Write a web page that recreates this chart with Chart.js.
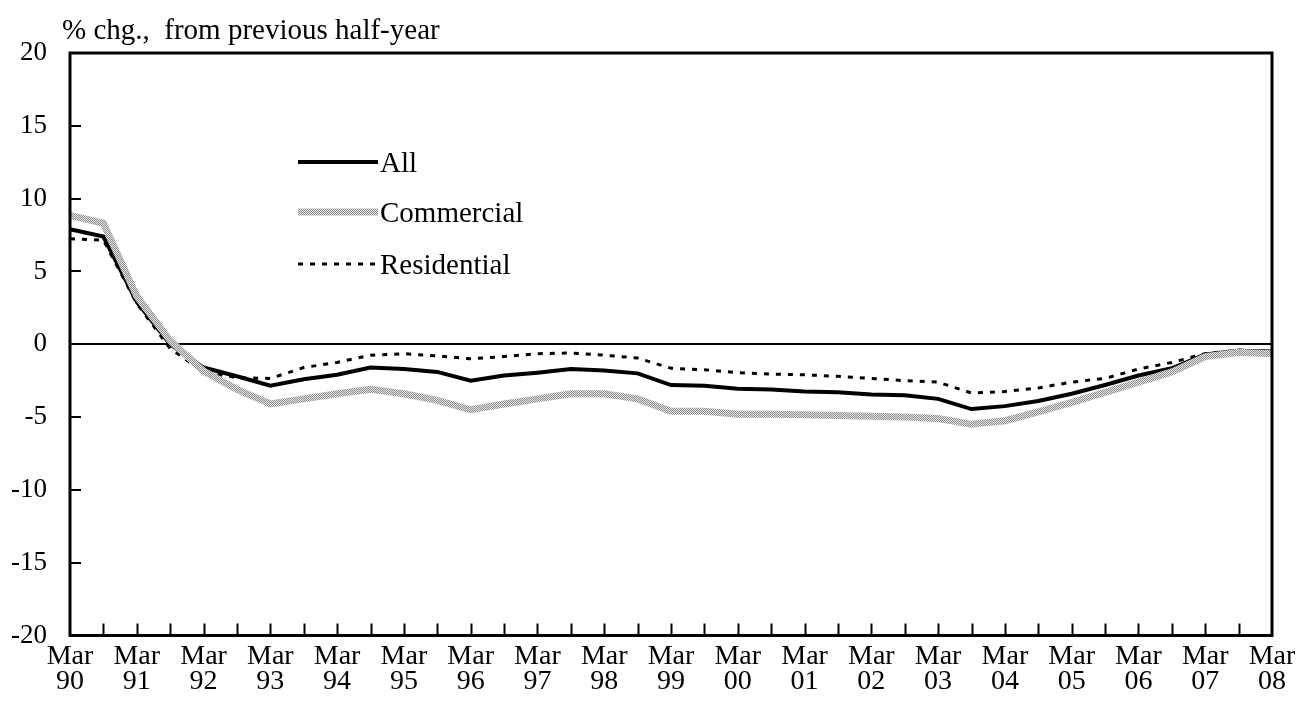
<!DOCTYPE html>
<html lang="en">
<head>
    <meta charset="UTF-8">
    <title>Land prices</title>
    <script src="https://cdn.jsdelivr.net/npm/chart.js"></script>
    <style>
        body { margin: 0; background: #fff; }
        .quadro { position: relative; width: 1300px; height: 715px; }
        .titulo {
            position: absolute; left: 62px; top: 15px;
            font: 29px/29px "Liberation Serif", "Times New Roman", serif;
            white-space: pre; color: #000;
        }
    </style>
</head>
<body>
    <div class="quadro">
        <canvas id="myChart"></canvas>
        <div class="titulo">% chg.,  from previous half-year</div>
    </div>
<script>
    // half-year periods, Mar 90 .. Mar 08
    const periodos = [
        'Mar 90', 'Sep 90', 'Mar 91', 'Sep 91', 'Mar 92', 'Sep 92', 'Mar 93', 'Sep 93',
        'Mar 94', 'Sep 94', 'Mar 95', 'Sep 95', 'Mar 96', 'Sep 96', 'Mar 97', 'Sep 97',
        'Mar 98', 'Sep 98', 'Mar 99', 'Sep 99', 'Mar 00', 'Sep 00', 'Mar 01', 'Sep 01',
        'Mar 02', 'Sep 02', 'Mar 03', 'Sep 03', 'Mar 04', 'Sep 04', 'Mar 05', 'Sep 05',
        'Mar 06', 'Sep 06', 'Mar 07', 'Sep 07', 'Mar 08'
    ];

    const todos = [7.9, 7.4, 2.9, 0.0, -1.6, -2.2, -2.85, -2.4, -2.1, -1.6, -1.7, -1.9, -2.5,
        -2.15, -1.95, -1.7, -1.8, -2.0, -2.8, -2.85, -3.05, -3.1, -3.25, -3.3, -3.45, -3.5,
        -3.75, -4.45, -4.25, -3.9, -3.4, -2.8, -2.15, -1.65, -0.7, -0.45, -0.5];

    const comercial = [8.85, 8.3, 3.3, 0.25, -1.85, -3.1, -4.1, -3.75, -3.4, -3.1, -3.4, -3.85,
        -4.5, -4.1, -3.75, -3.4, -3.4, -3.75, -4.6, -4.6, -4.8, -4.8, -4.85, -4.9, -4.95, -5.0,
        -5.1, -5.5, -5.25, -4.65, -4.0, -3.3, -2.6, -1.9, -0.85, -0.55, -0.65];

    const residencial = [7.25, 7.15, 2.8, -0.3, -1.9, -2.3, -2.35, -1.6, -1.25, -0.75, -0.65,
        -0.8, -1.0, -0.85, -0.65, -0.6, -0.75, -0.95, -1.65, -1.75, -1.95, -2.05, -2.1, -2.2,
        -2.35, -2.5, -2.6, -3.35, -3.25, -3.0, -2.6, -2.35, -1.7, -1.25, -0.65, -0.4, -0.5];

    const nomesSeries = ['All', 'Commercial', 'Residential'];
    const yTicks = [-20, -15, -10, -5, 0, 5, 10, 15, 20];

    const fonte = '"Liberation Serif", "Times New Roman", serif';

    // grey dithered stroke for the commercial line
    function padraoCinza() {
        const c = document.createElement('canvas');
        c.width = 2; c.height = 2;
        const g = c.getContext('2d');
        g.fillStyle = '#e6e6e6'; g.fillRect(0, 0, 2, 2);
        g.fillStyle = '#8c8c8c'; g.fillRect(0, 0, 1, 1); g.fillRect(1, 1, 1, 1);
        return g.createPattern(c, 'repeat');
    }

    const ctx = document.getElementById('myChart').getContext('2d');
    const cinza = padraoCinza();

    // frame, inward ticks and legend
    const moldura = {
        id: 'moldura',
        afterDraw(chart) {
            const { ctx, chartArea: a, scales } = chart;
            ctx.save();
            ctx.strokeStyle = '#000';
            ctx.lineWidth = 2;
            ctx.beginPath();
            for (let i = 1; i < periodos.length - 1; i++) {
                const x = Math.round(scales.x.getPixelForValue(i)) + 0.5;
                ctx.moveTo(x, a.bottom);
                ctx.lineTo(x, a.bottom - 12);
            }
            yTicks.forEach(v => {
                const y = Math.round(scales.y.getPixelForValue(v));
                ctx.moveTo(a.left, y);
                ctx.lineTo(a.left + 11, y);
            });
            ctx.stroke();
            ctx.lineWidth = 3;
            ctx.strokeRect(a.left, a.top, a.right - a.left, a.bottom - a.top);

            // legend
            const itens = [
                { y: 162, cor: '#000', w: 4, dash: [] },
                { y: 212, cor: cinza, w: 7, dash: [] },
                { y: 264, cor: '#000', w: 3, dash: [5, 7] }
            ];
            ctx.font = '29px ' + fonte;
            ctx.textBaseline = 'middle';
            ctx.fillStyle = '#000';
            itens.forEach((it, k) => {
                ctx.beginPath();
                ctx.lineWidth = it.w;
                ctx.strokeStyle = it.cor;
                ctx.setLineDash(it.dash);
                ctx.moveTo(298, it.y);
                ctx.lineTo(378, it.y);
                ctx.stroke();
                ctx.setLineDash([]);
                ctx.fillText(nomesSeries[k], 380, it.y + 2);
            });
            ctx.restore();
        }
    };

    const dados = {
        labels: periodos,
        datasets: [
            {
                label: nomesSeries[1],
                data: comercial,
                borderColor: cinza,
                borderWidth: 7,
                pointRadius: 0,
                tension: 0,
                fill: false
            },
            {
                label: nomesSeries[2],
                data: residencial,
                borderColor: '#000',
                borderWidth: 3,
                borderDash: [5, 7],
                pointRadius: 0,
                tension: 0,
                fill: false
            },
            {
                label: nomesSeries[0],
                data: todos,
                borderColor: '#000',
                borderWidth: 4,
                pointRadius: 0,
                tension: 0,
                fill: false
            }
        ]
    };

    const options = {
        responsive: true,
        maintainAspectRatio: false,
        animation: false,
        layout: { padding: { top: 53, left: 11, right: 28, bottom: 12 } },
        plugins: {
            legend: { display: false },
            tooltip: { enabled: false }
        },
        scales: {
            x: {
                offset: false,
                border: { display: false },
                afterFit: s => { s.paddingLeft = 0; s.paddingRight = 0; },
                grid: { display: false, drawTicks: false },
                ticks: {
                    autoSkip: false,
                    maxRotation: 0,
                    minRotation: 0,
                    padding: 8,
                    color: '#000',
                    font: { family: fonte, size: 28, lineHeight: 0.92 },
                    callback: function (v, i) {
                        const p = periodos[i];
                        return p.startsWith('Mar') ? p.split(' ') : '';
                    }
                }
            },
            y: {
                min: -20,
                max: 20,
                border: { display: false },
                afterFit: s => { s.width = 59; },
                grid: {
                    drawTicks: false,
                    lineWidth: 2,
                    color: c => (c.tick && c.tick.value === 0 ? '#000' : 'rgba(0,0,0,0)')
                },
                ticks: {
                    stepSize: 5,
                    padding: 23,
                    color: '#000',
                    font: { family: fonte, size: 27 }
                }
            }
        }
    };

    new Chart(ctx, { type: 'line', data: dados, options: options, plugins: [moldura] });
</script>
</body>
</html>
